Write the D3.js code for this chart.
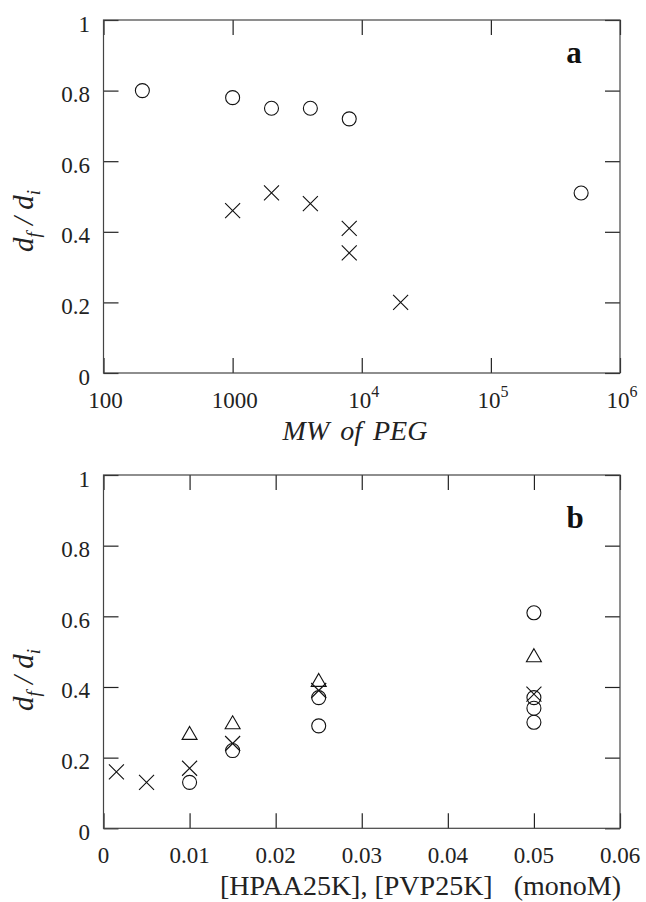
<!DOCTYPE html>
<html>
<head>
<meta charset="utf-8">
<script src="https://cdn.jsdelivr.net/npm/d3@7"></script>
<style>
  body { margin: 0; background: #fff; }
</style>
</head>
<body>
<svg id="chart" width="646" height="902"></svg>
<script>
// ***** Panel a data (MW of PEG) ***** //
var pegCircleMW    = [200, 1000, 2000, 4000, 8000, 500000];
var pegCircleRatio = [0.80, 0.78, 0.75, 0.75, 0.72, 0.51];
var pegCrossMW     = [1000, 2000, 4000, 8000, 8000, 20000];
var pegCrossRatio  = [0.46, 0.51, 0.48, 0.41, 0.34, 0.20];
var pegTicks       = [100, 1000, 1e4, 1e5, 1e6];
var pegTickLabels  = [['100', ''], ['1000', ''], ['10', '4'], ['10', '5'], ['10', '6']];

// ***** Panel b data (concentration) ***** //
var concCircle      = [0.01, 0.015, 0.025, 0.025, 0.05, 0.05, 0.05, 0.05];
var concCircleRatio = [0.13, 0.22, 0.37, 0.29, 0.61, 0.37, 0.34, 0.30];
var concCross       = [0.0015, 0.005, 0.01, 0.015, 0.025, 0.05];
var concCrossRatio  = [0.16, 0.13, 0.17, 0.24, 0.39, 0.38];
var concTri         = [0.01, 0.015, 0.025, 0.05];
var concTriRatio    = [0.27, 0.30, 0.42, 0.49];
var concTicks       = [0, 0.01, 0.02, 0.03, 0.04, 0.05, 0.06];
var concTickLabels  = ['0', '0.01', '0.02', '0.03', '0.04', '0.05', '0.06'];

var yTicks      = [0, 0.2, 0.4, 0.6, 0.8, 1];
var yTickLabels = ['0', '0.2', '0.4', '0.6', '0.8', '1'];

var serif = 'Liberation Serif';
var svg = d3.select('#chart');
var left = 103.5, right = 620, tickLen = 15;

// ***** Markers ***** //
function drawCircles(g, xs, ys, x, y) {
    g.selectAll(null).data(xs).enter().append('circle')
        .attr('cx', (d) => x(d))
        .attr('cy', (d, i) => y(ys[i]))
        .attr('r', 7)
        .attr('fill', 'none').attr('stroke', '#111').attr('stroke-width', 1.1);
}
function drawCrosses(g, xs, ys, x, y) {
    var s = 7.5;
    g.selectAll(null).data(xs).enter().append('path')
        .attr('d', (d, i) => {
            var cx = x(d), cy = y(ys[i]);
            return 'M' + (cx - s) + ',' + (cy - s) + 'L' + (cx + s) + ',' + (cy + s) +
                   'M' + (cx - s) + ',' + (cy + s) + 'L' + (cx + s) + ',' + (cy - s);
        })
        .attr('fill', 'none').attr('stroke', '#111').attr('stroke-width', 1.1);
}
function drawTriangles(g, xs, ys, x, y) {
    g.selectAll(null).data(xs).enter().append('path')
        .attr('d', (d, i) => {
            var cx = x(d), cy = y(ys[i]);
            return 'M' + cx + ',' + (cy - 6.5) + 'L' + (cx + 7.5) + ',' + (cy + 6.5) +
                   'L' + (cx - 7.5) + ',' + (cy + 6.5) + 'Z';
        })
        .attr('fill', 'none').attr('stroke', '#111').attr('stroke-width', 1.1);
}

// ***** Frame + inward ticks ***** //
function drawAxes(x, y, top, bottom, xTicks, xLabel) {
    var g = svg.append('g');
    g.append('g').attr('transform', 'translate(0,' + bottom + ')')
        .call(d3.axisBottom(x).tickValues(xTicks).tickSize(-tickLen).tickFormat(''));
    g.append('g').attr('transform', 'translate(0,' + top + ')')
        .call(d3.axisTop(x).tickValues(xTicks).tickSize(-tickLen).tickFormat(''));
    g.append('g').attr('transform', 'translate(' + left + ',0)')
        .call(d3.axisLeft(y).tickValues(yTicks).tickSize(-tickLen)
            .tickFormat((d, i) => yTickLabels[i]));
    g.append('g').attr('transform', 'translate(' + right + ',0)')
        .call(d3.axisRight(y).tickValues(yTicks).tickSize(-tickLen).tickFormat(''));
    g.selectAll('.domain').remove();
    g.selectAll('.tick line').attr('stroke', '#222').attr('stroke-width', 1.2);
    g.selectAll('.tick text').attr('x', -13.5).attr('dy', null).attr('y', 11)
        .attr('text-anchor', 'end').attr('fill', '#222')
        .style('font-family', serif).style('font-size', '23px');

    // x tick labels
    xTicks.forEach(function (t, i) {
        xLabel(g.append('text').attr('x', x(t)).attr('y', bottom + 35)
            .attr('text-anchor', 'middle').attr('fill', '#222')
            .style('font-family', serif).style('font-size', '23px'), i);
    });

    g.append('rect').attr('x', left).attr('y', top)
        .attr('width', right - left).attr('height', bottom - top)
        .attr('fill', 'none').attr('stroke', '#444').attr('stroke-width', 1.2);
    return g;
}

function yTitle(cy) {
    var t = svg.append('text')
        .attr('transform', 'translate(33,' + cy + ') rotate(-90)')
        .attr('text-anchor', 'middle').attr('fill', '#222')
        .style('font-family', serif).style('font-size', '29px').style('font-style', 'italic');
    t.append('tspan').text('d');
    t.append('tspan').text('f').style('font-size', '19px').attr('dy', 7);
    t.append('tspan').text(' / d').attr('dy', -7);
    t.append('tspan').text('i').style('font-size', '19px').attr('dy', 7);
}

// ***** Panel a ***** //
var topA = 20, bottomA = 373;
var xA = d3.scaleLog().domain([100, 1e6]).range([left, right]);
var yA = d3.scaleLinear().domain([0, 1]).range([bottomA, topA]);

drawAxes(xA, yA, topA, bottomA, pegTicks, function (txt, i) {
    txt.attr('dx', 2);
    txt.append('tspan').text(pegTickLabels[i][0]);
    if (pegTickLabels[i][1]) {
        txt.append('tspan').text(pegTickLabels[i][1])
            .style('font-size', '16px').attr('dy', -11);
    }
});
var gA = svg.append('g');
drawCircles(gA, pegCircleMW, pegCircleRatio, xA, yA);
drawCrosses(gA, pegCrossMW, pegCrossRatio, xA, yA);

svg.append('text').attr('x', 355).attr('y', 440)
    .attr('text-anchor', 'middle').attr('fill', '#222')
    .style('font-family', serif).style('font-size', '28px').style('font-style', 'italic')
    .style('word-spacing', '4px').text('MW of PEG');
svg.append('text').attr('x', 574).attr('y', 63)
    .attr('text-anchor', 'middle').attr('fill', '#111')
    .style('font-family', serif).style('font-size', '31px').style('font-weight', 'bold')
    .text('a');
yTitle(221);

// ***** Panel b ***** //
var topB = 475, bottomB = 828.3;
var xB = d3.scaleLinear().domain([0, 0.06]).range([left, right]);
var yB = d3.scaleLinear().domain([0, 1]).range([bottomB, topB]);

drawAxes(xB, yB, topB, bottomB, concTicks, function (txt, i) {
    txt.text(concTickLabels[i]);
});
var gB = svg.append('g');
drawCircles(gB, concCircle, concCircleRatio, xB, yB);
drawCrosses(gB, concCross, concCrossRatio, xB, yB);
drawTriangles(gB, concTri, concTriRatio, xB, yB);

svg.append('text').attr('x', 621).attr('y', 895)
    .attr('text-anchor', 'end').attr('fill', '#222')
    .style('font-family', serif).style('font-size', '28px').style('white-space', 'pre')
    .text('[HPAA25K], [PVP25K]   (monoM)');
svg.append('text').attr('x', 575).attr('y', 528)
    .attr('text-anchor', 'middle').attr('fill', '#111')
    .style('font-family', serif).style('font-size', '31px').style('font-weight', 'bold')
    .text('b');
yTitle(680);
</script>
</body>
</html>
